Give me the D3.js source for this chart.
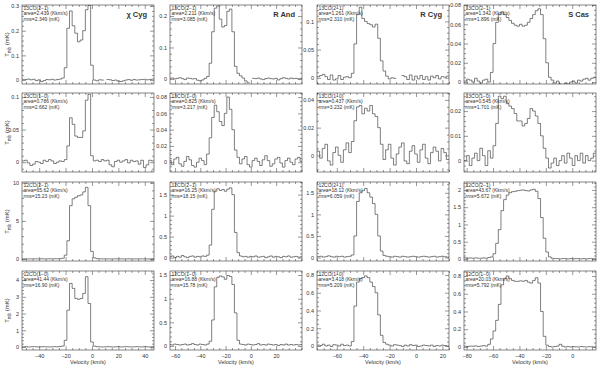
<!DOCTYPE html>
<html>
<head>
<meta charset="utf-8">
<script src="https://cdn.jsdelivr.net/npm/d3@7"></script>
<style>
body { margin: 0; background: #fff; }
svg { font-family: "Liberation Sans", Arial, sans-serif; }
</style>
</head>
<body>
<svg id="chart" width="600" height="367"></svg>
<script>
// stars (columns) and lines (rows)
var stars = ["χ Cyg", "R And", "R Cyg", "S Cas"];
var transitions = ["13CO(2−1)", "13CO(1−0)", "12CO(2−1)", "12CO(1−0)"];

var areaText = [
  ["2.439", "2.211", "1.261", "1.342"],
  ["0.786", "0.825", "0.437", "0.545"],
  ["65.62", "16.25", "18.12", "43.67"],
  ["41.44", "16.88", "3.418", "20.03"]
];
var rmsText = [
  ["2.349", "3.085", "2.310", "1.896"],
  ["2.662", "3.217", "3.232", "1.701"],
  ["15.23", "18.15", "6.059", "5.672"],
  ["16.90", "15.78", "5.209", "5.792"]
];

// velocity channels: first channel centre per star, 2 km/s wide
var chanStart = [-52, -64, -74, -81];
var chanWidth = 2;
var velDomain = [[-53, 47], [-64, 40.5], [-75, 25], [-82, 18]];
var velTicks = [[-40, -20, 0, 20, 40], [-60, -40, -20, 0, 20], [-60, -40, -20, 0, 20], [-80, -60, -40, -20, 0]];

var tDomain = [
  [[-0.016, 0.304], [-0.016, 0.235], [-0.011, 0.129], [-0.002, 0.08]],
  [[-0.015, 0.106], [-0.012, 0.085], [-0.012, 0.045], [-0.0046, 0.0273]],
  [[-0.26, 10.1], [-0.08, 1.8], [-0.08, 1.75], [-0.06, 2.23]],
  [[-0.18, 4.54], [-0.085, 1.585], [-0.045, 0.845], [-0.034, 0.856]]
];
var tTicks = [
  [[0, 0.1, 0.2, 0.3], [0, 0.1, 0.2], [0, 0.05, 0.1], [0, 0.02, 0.04, 0.06, 0.08]],
  [[0, 0.05, 0.1], [0, 0.02, 0.04, 0.06, 0.08], [0, 0.02, 0.04], [0, 0.01, 0.02]],
  [[0, 5, 10], [0, 0.5, 1, 1.5], [0, 0.5, 1, 1.5], [0, 0.5, 1, 1.5, 2]],
  [[0, 1, 2, 3, 4], [0, 0.5, 1, 1.5], [0, 0.2, 0.4, 0.6, 0.8], [0, 0.2, 0.4, 0.6, 0.8]]
];

// chi Cyg, -52 .. 46 km/s
var chiCyg13co21 = [0.003, 0.002, 0.004, 0.001, 0.003, -0.002, 0.001, -0.006, -0.002, 0.002,
  0.001, 0.003, 0.000, 0.002, 0.004, 0.008, 0.05, 0.21, 0.28, 0.22,
  0.19, 0.155, 0.162, 0.2, 0.285, 0.302, 0.06, 0.0, -0.003, 0.001,
  0.0, null, 0.002, 0.001, -0.002, 0.0, -0.004, -0.006, -0.003, 0.0,
  0.002, -0.001, 0.002, 0.0, 0.001, 0.002, 0.003, 0.001, 0.002, 0.004];
var chiCyg13co10 = [0.002, 0.003, -0.001, -0.005, -0.003, 0.001, 0.000, -0.002, 0.003, 0.001,
  0.004, 0.002, -0.002, 0.000, 0.002, 0.001, 0.004, 0.025, 0.068, 0.058,
  0.040, 0.038, 0.038, 0.048, 0.095, 0.104, 0.010, 0.002, 0.003, 0.001,
  0.004, 0.002, 0.003, -0.004, -0.007, 0.001, 0.003, 0.000, 0.002, 0.004,
  -0.001, 0.003, 0.001, 0.002, -0.003, 0.003, -0.008, -0.004, 0.003, 0.002];
var chiCyg12co21 = [0.02, 0.03, 0.01, 0.02, 0.03, 0.02, 0.01, 0.03, 0.02, 0.02,
  0.03, 0.02, 0.04, 0.03, 0.05, 0.1, 0.5, 2.4, 7.0, 7.9,
  8.1, 8.3, 8.4, 8.8, 9.4, 7.0, 1.0, 0.15, 0.05, 0.03,
  0.02, 0.03, 0.02, 0.01, 0.02, 0.03, 0.02, 0.02, 0.01, 0.02,
  0.03, 0.02, 0.01, 0.02, 0.03, 0.02, 0.02, 0.01, 0.02, 0.03];
var chiCyg12co10 = [0.01, 0.02, 0.0, 0.01, 0.02, 0.01, 0.0, 0.01, 0.02, 0.01,
  0.0, 0.01, 0.02, 0.01, 0.03, 0.06, 0.4, 2.2, 3.8, 3.5,
  2.9, 2.85, 2.9, 3.2, 4.2, 2.6, 0.3, 0.05, 0.02, 0.01,
  0.0, 0.01, 0.02, 0.01, 0.0, 0.01, 0.02, 0.0, 0.01, 0.02,
  0.01, 0.0, 0.01, 0.02, 0.01, 0.0, 0.02, 0.01, 0.0, 0.01];

// R And, -64 .. 40 km/s
var rAnd13co21 = [0.002, 0.003, 0.0, 0.002, 0.004, 0.001, -0.002, 0.003, 0.002, 0.0,
  0.001, -0.004, -0.006, -0.003, 0.002, 0.008, 0.05, 0.15, 0.225, 0.232,
  0.19, 0.165, 0.17, 0.215, 0.222, 0.15, 0.04, 0.018, 0.01, 0.003,
  -0.006, -0.012, null, 0.002, 0.001, 0.003, 0.0, -0.002, 0.001, 0.003,
  0.001, 0.0, 0.002, -0.003, 0.001, 0.004, 0.002, 0.0, 0.003, 0.001,
  0.002, 0.0, 0.002];
var rAnd13co10 = [0.002, -0.003, 0.004, 0.006, -0.002, -0.005, 0.001, 0.007, 0.003, -0.004,
  -0.006, 0.0, 0.005, 0.002, -0.003, 0.01, 0.03, 0.055, 0.07, 0.062,
  0.05, 0.045, 0.06, 0.08, 0.065, 0.04, 0.015, 0.006, -0.002, 0.004,
  0.007, -0.003, -0.006, 0.002, 0.005, 0.001, -0.004, 0.003, 0.008, 0.002,
  -0.005, -0.002, 0.004, 0.006, -0.001, -0.006, 0.002, 0.005, 0.0, -0.003,
  0.004, 0.006, 0.001];
var rAnd12co21 = [0.02, 0.04, 0.0, 0.03, 0.01, 0.05, 0.02, 0.0, 0.03, 0.04,
  0.01, 0.03, 0.02, 0.04, 0.03, 0.06, 0.3, 1.15, 1.58, 1.64,
  1.6, 1.62, 1.58, 1.63, 1.66, 1.5, 0.6, 0.12, 0.04, 0.02,
  0.03, 0.01, 0.03, 0.02, 0.04, 0.01, 0.02, 0.03, 0.0, 0.02,
  0.04, 0.01, 0.03, 0.02, 0.0, 0.03, 0.02, 0.04, 0.01, 0.02,
  0.03, 0.01, 0.02];
var rAnd12co10 = [0.03, 0.02, 0.04, 0.03, 0.02, 0.03, 0.04, 0.02, 0.03, 0.05,
  0.03, 0.02, 0.04, 0.03, 0.02, 0.04, 0.1, 0.55, 1.25, 1.45,
  1.48, 1.46, 1.41, 1.49, 1.47, 1.3, 0.7, 0.12, 0.04, 0.03,
  0.02, 0.04, 0.03, 0.02, 0.03, 0.05, 0.02, 0.03, 0.02, 0.04,
  0.03, 0.02, 0.03, 0.01, 0.03, 0.02, 0.04, 0.02, 0.03, 0.02,
  0.03, 0.02, 0.03];

// R Cyg, -74 .. 24 km/s
var rCyg13co21 = [0.002, 0.004, 0.006, 0.002, -0.003, 0.005, -0.004, -0.002, 0.004, -0.003,
  0.001, 0.002, 0.000, 0.008, 0.06, 0.112, 0.125, 0.105, 0.1, 0.096,
  0.094, 0.09, 0.095, 0.07, 0.03, 0.012, 0.003, -0.002, 0.0, -0.001,
  null, null, 0.004, 0.002, -0.003, 0.005, -0.004, 0.003, -0.002, 0.004,
  -0.003, 0.002, -0.004, 0.003, 0.0, 0.004, -0.002, 0.002, 0.001, 0.003];
var rCyg13co10 = [0.003, -0.002, 0.005, 0.008, -0.004, -0.007, 0.002, 0.006, 0.0, -0.005,
  0.004, 0.009, 0.002, 0.01, 0.025, 0.035, 0.036, 0.03, 0.034, 0.032,
  0.036, 0.03, 0.028, 0.02, 0.008, -0.003, 0.004, 0.008, -0.002, -0.007,
  0.001, 0.006, 0.009, -0.004, -0.006, 0.003, 0.007, 0.001, -0.005, 0.004,
  0.008, -0.002, -0.006, 0.002, 0.006, 0.003, -0.004, 0.005, 0.002, -0.003];
var rCyg12co21 = [0.02, 0.03, 0.01, 0.02, 0.04, 0.02, 0.01, 0.03, 0.02, 0.03,
  0.01, 0.02, 0.03, 0.06, 0.5, 1.3, 1.5, 1.55, 1.6, 1.5,
  1.4, 1.25, 1.0, 0.5, 0.15, 0.05, 0.03, 0.02, 0.01, 0.03,
  0.02, 0.01, 0.03, 0.02, 0.01, 0.02, 0.03, 0.02, 0.01, 0.02,
  0.03, 0.02, 0.01, 0.02, 0.03, 0.01, 0.02, 0.03, 0.02, 0.01];
var rCyg12co10 = [0.01, 0.005, 0.02, 0.0, 0.01, -0.005, 0.015, 0.01, 0.0, 0.02,
  0.005, 0.01, 0.0, 0.05, 0.45, 0.72, 0.76, 0.77, 0.79, 0.77,
  0.72, 0.67, 0.6, 0.35, 0.12, 0.04, 0.02, 0.01, 0.0, 0.015,
  0.01, 0.005, -0.005, 0.01, 0.0, 0.015, 0.005, 0.01, -0.005, 0.0,
  0.01, 0.005, 0.0, 0.01, -0.005, 0.005, 0.0, 0.01, 0.005, 0.0];

// S Cas, -81 .. 17 km/s
var sCas13co21 = [0.001, 0.003, 0.002, 0.0, 0.004, 0.001, -0.001, 0.002, 0.003, 0.0,
  0.01, 0.04, 0.062, 0.07, 0.073, 0.07, 0.067, 0.064, 0.061, 0.059,
  0.058, 0.06, 0.058, 0.059, 0.062, 0.066, 0.07, 0.074, 0.076, 0.07,
  0.045, 0.02, 0.005, 0.002, -0.001, 0.001, -0.002, -0.003, -0.001, -0.002,
  0.0, 0.001, -0.001, 0.002, 0.001, 0.003, 0.004, 0.002, 0.004, 0.005];
var sCas13co10 = [0.0, 0.002, -0.002, 0.001, 0.003, 0.0, 0.005, 0.002, -0.002, 0.004,
  0.001, 0.006, 0.015, 0.026, 0.025, 0.026, 0.023, 0.022, 0.021, 0.019,
  0.016, 0.016, 0.014, 0.015, 0.017, 0.021, 0.02, 0.018, 0.015, 0.01,
  0.005, 0.001, -0.003, -0.001, 0.001, -0.002, 0.0, 0.002, -0.001, 0.003,
  0.001, -0.002, 0.002, 0.0, 0.003, -0.001, 0.002, 0.0, 0.001, 0.003];
var sCas12co21 = [0.03, 0.02, 0.03, 0.02, 0.03, 0.02, 0.02, 0.03, 0.02, 0.04,
  0.06, 0.15, 0.45, 0.85, 1.4, 1.72, 1.85, 1.92, 1.95, 1.96,
  1.98, 1.99, 2.0, 1.98, 1.97, 2.0, 2.02, 1.96, 1.75, 1.2,
  0.6, 0.2, 0.06, 0.02, 0.01, 0.01, 0.0, 0.01, 0.01, 0.0,
  0.01, 0.0, 0.01, 0.01, 0.0, 0.01, 0.0, 0.01, 0.01, 0.0];
var sCas12co10 = [0.01, 0.005, 0.01, 0.008, 0.012, 0.006, 0.01, 0.015, 0.01, 0.03,
  0.09, 0.18, 0.3, 0.48, 0.7, 0.77, 0.8, 0.77, 0.75, 0.74,
  0.74, 0.745, 0.74, 0.75, 0.73, 0.72, 0.75, 0.78, 0.72, 0.4,
  0.12, 0.02, 0.005, 0.0, 0.005, 0.01, 0.03, 0.008, 0.0, 0.005,
  0.0, 0.004, 0.002, 0.0, 0.005, 0.002, 0.0, 0.004, 0.002, 0.0];

var spectra = [
  [chiCyg13co21, rAnd13co21, rCyg13co21, sCas13co21],
  [chiCyg13co10, rAnd13co10, rCyg13co10, sCas13co10],
  [chiCyg12co21, rAnd12co21, rCyg12co21, sCas12co21],
  [chiCyg12co10, rAnd12co10, rCyg12co10, sCas12co10]
];

// layout
var colX = [22, 170, 317, 464];
var rowY = [5, 93, 182, 271];
var pw = 132, ph = 79;
var ink = "#333";

var svg = d3.select("#chart");
var fmt = d3.format("~g");

function minorTicks(domain, majors, n) {
  var step = (majors[1] - majors[0]) / n;
  var out = [];
  var start = Math.ceil(domain[0] / step - 1e-6);
  for (var k = start; k * step <= domain[1] + 1e-9; k++) {
    var v = +(k * step).toFixed(6);
    if (majors.every(function (m) { return Math.abs(m - v) > step / 10; })) out.push(v);
  }
  return out;
}

function styleAxis(g) {
  g.select(".domain").remove();
  g.selectAll("line").attr("stroke", ink).attr("stroke-width", 0.5);
  g.selectAll("text").attr("fill", ink).style("font-size", "5.5px");
}

for (var r = 0; r < 4; r++) {
  for (var c = 0; c < 4; c++) {
    var g = svg.append("g").attr("transform", "translate(" + colX[c] + "," + rowY[r] + ")");
    var x = d3.scaleLinear().domain(velDomain[c]).range([0, pw]);
    var y = d3.scaleLinear().domain(tDomain[r][c]).range([ph, 0]);

    var clipId = "clip" + r + c;
    g.append("clipPath").attr("id", clipId)
      .append("rect").attr("width", pw).attr("height", ph);

    // spectrum as histogram steps
    var pts = [];
    spectra[r][c].forEach(function (t, i) {
      var v = chanStart[c] + i * chanWidth;
      pts.push({ v: v - chanWidth / 2, t: t });
      pts.push({ v: v + chanWidth / 2, t: t });
    });
    var line = d3.line()
      .defined(function (d) { return d.t !== null; })
      .x(function (d) { return x(d.v); })
      .y(function (d) { return y(d.t); });
    g.append("path")
      .attr("clip-path", "url(#" + clipId + ")")
      .attr("d", line(pts))
      .attr("fill", "none")
      .attr("stroke", "#2a2a2a")
      .attr("stroke-width", 0.6);

    // axes, ticks inward on all sides
    var yMaj = tTicks[r][c];
    var yMin = minorTicks(tDomain[r][c], yMaj, String(yMaj[1]).replace(/[0.]/g, "")[0] === "2" ? 4 : 5);
    var xMaj = velTicks[c];
    var xMin = minorTicks(velDomain[c], xMaj, 4);

    g.append("g").call(d3.axisLeft(y).tickValues(yMaj).tickSize(-4).tickPadding(3).tickFormat(fmt)).call(styleAxis);
    g.append("g").call(d3.axisLeft(y).tickValues(yMin).tickSize(-2).tickFormat("")).call(styleAxis);
    g.append("g").attr("transform", "translate(" + pw + ",0)")
      .call(d3.axisRight(y).tickValues(yMaj).tickSize(-4).tickFormat("")).call(styleAxis);
    g.append("g").attr("transform", "translate(" + pw + ",0)")
      .call(d3.axisRight(y).tickValues(yMin).tickSize(-2).tickFormat("")).call(styleAxis);
    g.append("g").call(d3.axisTop(x).tickValues(xMaj).tickSize(-4).tickFormat("")).call(styleAxis);
    g.append("g").call(d3.axisTop(x).tickValues(xMin).tickSize(-2).tickFormat("")).call(styleAxis);
    g.append("g").attr("transform", "translate(0," + ph + ")")
      .call(d3.axisBottom(x).tickValues(xMaj).tickSize(-4).tickPadding(4)
        .tickFormat(r === 3 ? fmt : "")).call(styleAxis);
    g.append("g").attr("transform", "translate(0," + ph + ")")
      .call(d3.axisBottom(x).tickValues(xMin).tickSize(-2).tickFormat("")).call(styleAxis);

    g.append("rect").attr("width", pw).attr("height", ph)
      .attr("fill", "none").attr("stroke", ink).attr("stroke-width", 0.6);

    // annotation
    var note = g.append("text").attr("fill", ink).style("font-size", "5px");
    [transitions[r], "area=" + areaText[r][c] + " (Kkm/s)", "rms=" + rmsText[r][c] + " (mK)"]
      .forEach(function (s, i) {
        note.append("tspan").attr("x", 1.5).attr("y", 4.8 + i * 5.5).text(s);
      });

    if (r === 0) {
      g.append("text").attr("x", 125).attr("y", 12)
        .attr("text-anchor", "end").attr("fill", ink)
        .style("font-size", "7.5px").style("font-weight", "bold")
        .text(stars[c]);
    }
    if (c === 0) {
      var yl = svg.append("text")
        .attr("transform", "translate(9," + (rowY[r] + ph / 2) + ") rotate(-90)")
        .attr("text-anchor", "middle").attr("fill", ink).style("font-size", "6px");
      yl.append("tspan").text("T");
      yl.append("tspan").attr("dy", 1.5).style("font-size", "4.5px").text("mb");
      yl.append("tspan").attr("dy", -1.5).text(" (mK)");
    }
    if (r === 3) {
      svg.append("text").attr("x", colX[c] + pw / 2).attr("y", 364)
        .attr("text-anchor", "middle").attr("fill", ink).style("font-size", "5.5px")
        .text("Velocity (km/s)");
    }
  }
}
</script>
</body>
</html>
